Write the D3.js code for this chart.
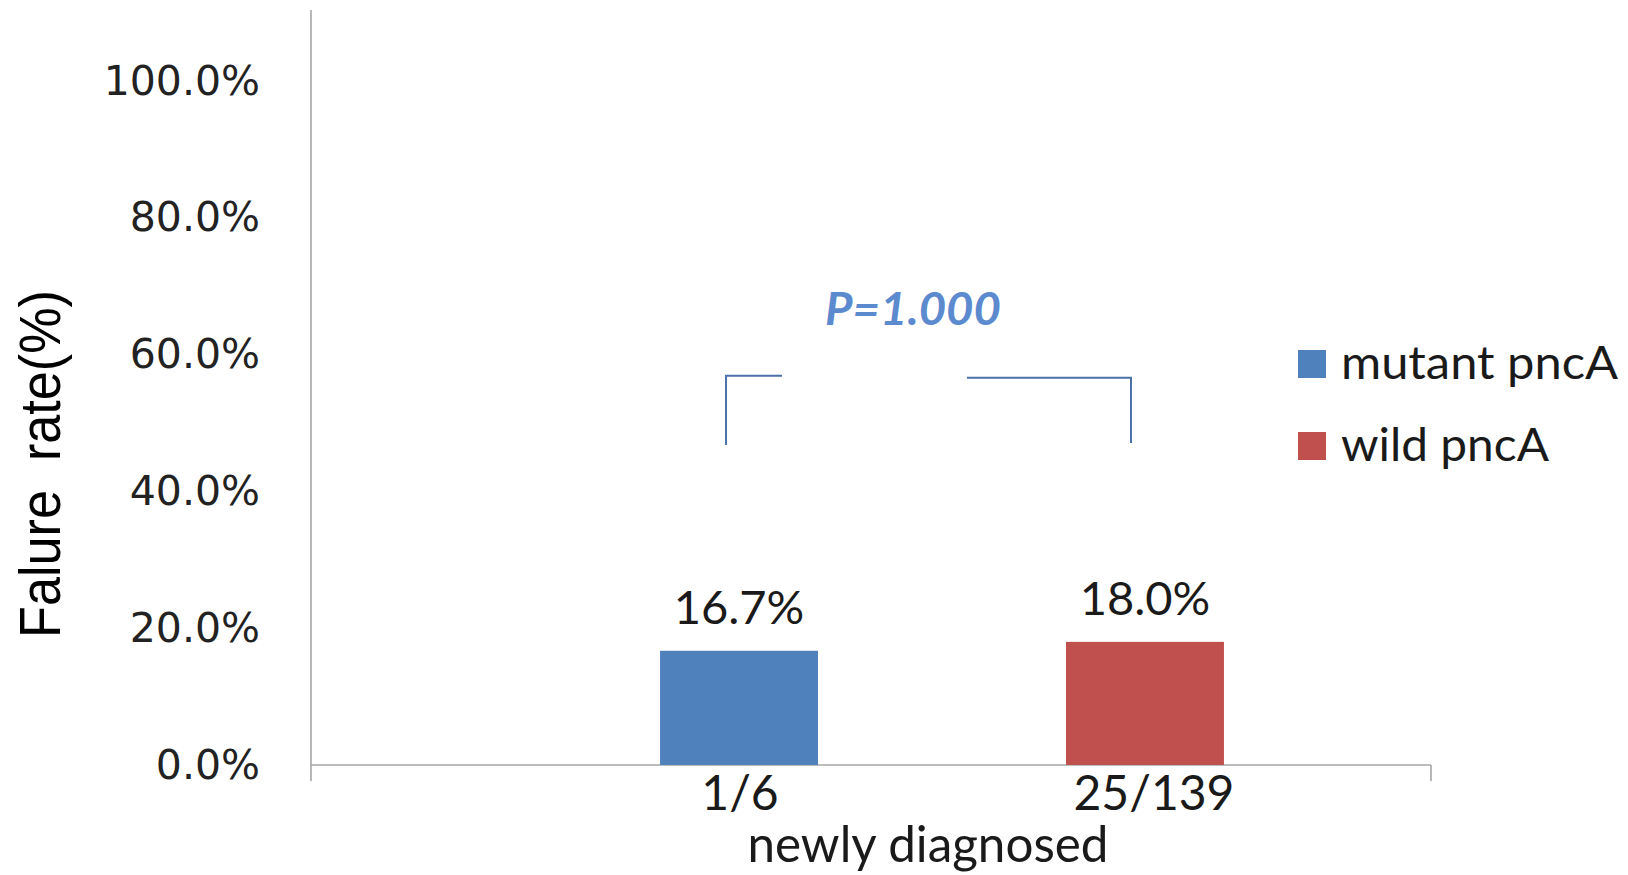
<!DOCTYPE html>
<html>
<head>
<meta charset="utf-8">
<script src="https://cdn.jsdelivr.net/npm/d3@7"></script>
<style>
  html, body { margin: 0; padding: 0; background: #fff; }
  svg { display: block; }
</style>
</head>
<body>
<svg id="chart" width="1628" height="875"></svg>
<script>
// Failure rate by pncA status, newly diagnosed patients
const category = "newly diagnosed";
const series = ["mutant pncA", "wild pncA"];
const rates = [0.167, 0.180];
const counts = ["1/6", "25/139"];
const colors = ["#4f81bd", "#c0504d"];
const yTicks = [0, 0.2, 0.4, 0.6, 0.8, 1.0];
const pLabel = "P=1.000";
const yTitle = "Falure  rate(%)";

const svg = d3.select("#chart");

const plot = { left: 311, right: 1431, top: 10, bottom: 765 };

const y = d3.scaleLinear().domain([0, 1]).range([765, 81]);
const x = d3.scaleBand().domain(series).range([412, 1472]).padding(0.611);

const calibriLike = "Lato, 'Open Sans', sans-serif";

// y axis labels
const yAxis = d3.axisLeft(y)
  .tickValues(yTicks)
  .tickFormat(d3.format(".1%"))
  .tickSize(0)
  .tickPadding(51);
const gy = svg.append("g").attr("transform", `translate(${plot.left},0)`).call(yAxis);
gy.select(".domain").remove();
gy.selectAll("text")
  .attr("font-family", "'DejaVu Sans', Verdana, sans-serif")
  .attr("font-size", 41)
  .attr("fill", "#222");

// axis lines
svg.append("line")
  .attr("x1", plot.left).attr("x2", plot.left)
  .attr("y1", plot.top).attr("y2", y(0) + 16)
  .attr("stroke", "#a6a6a6").attr("stroke-width", 1.6);
svg.append("line")
  .attr("x1", plot.left).attr("x2", plot.right)
  .attr("y1", y(0)).attr("y2", y(0))
  .attr("stroke", "#a6a6a6").attr("stroke-width", 1.6);
svg.append("line")
  .attr("x1", plot.right).attr("x2", plot.right)
  .attr("y1", y(0)).attr("y2", y(0) + 16)
  .attr("stroke", "#a6a6a6").attr("stroke-width", 1.6);

// bars
svg.selectAll("rect.bar")
  .data(series)
  .join("rect")
  .attr("class", "bar")
  .attr("x", d => x(d))
  .attr("width", x.bandwidth())
  .attr("y", (d, i) => y(rates[i]))
  .attr("height", (d, i) => y(0) - y(rates[i]))
  .attr("fill", (d, i) => colors[i]);

// value labels
svg.selectAll("text.val")
  .data(series)
  .join("text")
  .attr("class", "val")
  .attr("x", d => x(d) + x.bandwidth() / 2)
  .attr("y", (d, i) => y(rates[i]) - 27)
  .attr("text-anchor", "middle")
  .attr("font-family", calibriLike)
  .attr("font-size", 47)
  .attr("fill", "#1a1a1a")
  .text((d, i) => d3.format(".1%")(rates[i]));

// count labels under bars
const countShift = [1, 9];
svg.selectAll("text.cnt")
  .data(series)
  .join("text")
  .attr("class", "cnt")
  .attr("x", (d, i) => x(d) + x.bandwidth() / 2 + countShift[i])
  .attr("y", 810)
  .attr("text-anchor", "middle")
  .attr("font-family", calibriLike)
  .attr("font-size", 48)
  .attr("fill", "#1a1a1a")
  .text((d, i) => counts[i]);

// category label
svg.append("text")
  .attr("x", 928).attr("y", 862)
  .attr("text-anchor", "middle")
  .attr("font-family", calibriLike)
  .attr("font-size", 51)
  .attr("fill", "#1a1a1a")
  .attr("textLength", 361)
  .attr("lengthAdjust", "spacingAndGlyphs")
  .text(category);

// y axis title (keeps its double space)
svg.append("text")
  .attr("transform", "translate(60,464) rotate(-90)")
  .attr("text-anchor", "middle")
  .attr("font-family", "'Liberation Sans', Arial, sans-serif")
  .attr("font-size", 58)
  .attr("fill", "#000")
  .style("white-space", "pre")
  .attr("textLength", 348)
  .attr("lengthAdjust", "spacingAndGlyphs")
  .text(yTitle);

// significance bracket
const bTop = 0.569, bBottom = 0.468;
const cx0 = x(series[0]) + x.bandwidth() / 2 - 13;
const cx1 = x(series[1]) + x.bandwidth() / 2 - 14;
const bracket = svg.append("g")
  .attr("fill", "none")
  .attr("stroke", "#4a72a8")
  .attr("stroke-width", 2);
bracket.append("path")
  .attr("d", `M${cx0},${y(bBottom)} V${y(bTop)} H${cx0 + 56}`);
bracket.append("path")
  .attr("d", `M${cx1 - 164},${y(bTop) + 2} H${cx1} V${y(bBottom) - 2}`);

svg.append("text")
  .attr("x", 913).attr("y", 325)
  .attr("text-anchor", "middle")
  .attr("font-family", calibriLike)
  .attr("font-style", "italic")
  .attr("font-weight", "bold")
  .attr("font-size", 45)
  .attr("fill", "#5b8ace")
  .attr("textLength", 176)
  .attr("lengthAdjust", "spacingAndGlyphs")
  .text(pLabel);

// legend
const legend = svg.append("g");
const legendY = [350, 432];
const legendLen = [277, 208];
series.forEach((s, i) => {
  legend.append("rect")
    .attr("x", 1298).attr("y", legendY[i])
    .attr("width", 28).attr("height", 28)
    .attr("fill", colors[i]);
  legend.append("text")
    .attr("x", 1341).attr("y", legendY[i] + 29)
    .attr("font-family", calibriLike)
    .attr("font-size", 46)
    .attr("fill", "#1a1a1a")
    .attr("textLength", legendLen[i])
    .attr("lengthAdjust", "spacingAndGlyphs")
    .text(s);
});
</script>
</body>
</html>
